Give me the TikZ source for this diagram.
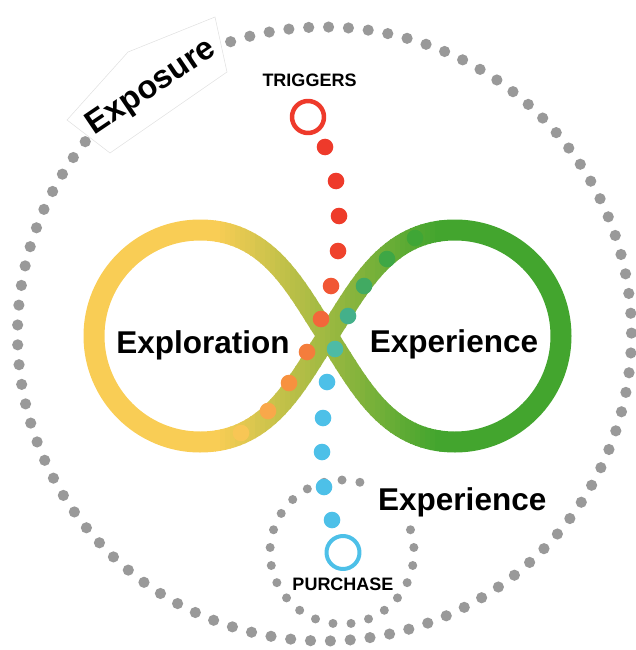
\documentclass[tikz,border=0pt]{standalone}
\usepackage{fontspec}
\setmainfont{Liberation Sans}
\definecolor{expyellow}{HTML}{F9CD55}
\definecolor{expgreen}{HTML}{43A52E}
\definecolor{dotgray}{HTML}{999999}
\definecolor{trigred}{HTML}{EE3A2B}
\definecolor{buyblue}{HTML}{4DC0E8}
\def\infpath{(327.5,336) .. controls (357.5,291) and (385,230) .. (455,230)
 .. controls (513.5,230) and (561,277.5) .. (561,336)
 .. controls (561,394.5) and (513.5,442) .. (455,442)
 .. controls (385,442) and (357.5,381) .. (327.5,336)
 .. controls (297.5,291) and (270,230) .. (200,230)
 .. controls (141.5,230) and (94,277.5) .. (94,336)
 .. controls (94,394.5) and (141.5,442) .. (200,442)
 .. controls (270,442) and (297.5,381) .. (327.5,336) -- cycle}
\begin{document}
\begin{tikzpicture}[x=1pt, y=-1pt, line join=round, line cap=round,
 band/.style={line width=21pt},
 biglbl/.style={font=\fontsize{31.5}{36}\selectfont\bfseries, inner sep=0pt},
 smalllbl/.style={font=\fontsize{18}{21}\selectfont\bfseries, inner sep=0pt}]
\useasboundingbox (0,0) rectangle (636,650);
\foreach \a in {0,...,96}
\fill[dotgray] ({324.5+307*cos(107.8+\a*3.7113)},{334-307*sin(107.8+\a*3.7113)}) circle (5.6);
\foreach \a in {0,...,24}
\fill[dotgray] ({342+72*cos(90+\a*14.4)},{552-72*sin(90+\a*14.4)}) circle (4.5);
\begin{scope}
\clip (60,200) rectangle (216,480);
\draw[band, expyellow] \infpath;
\end{scope}
\begin{scope}
\clip (439,200) rectangle (600,480);
\draw[band, expgreen] \infpath;
\end{scope}
\foreach \i in {0,...,44}{
\pgfmathtruncatemacro\p{100-\i*100/44}
\begin{scope}
\clip (215+5*\i,200) rectangle (221+5*\i,480);
\draw[band, expyellow!\p!expgreen] \infpath;
\end{scope}}
\coordinate (trig) at (308,117);
\coordinate (buy) at (343,552.5);
\draw[trigred, line width=4.5pt] (trig) circle (16);
\draw[buyblue, line width=4pt] (buy) circle (16.5);
\foreach \x/\y/\c in {325/147/EE3A2B,336/181/EE3A2B,339/216/EE3C2A,338/251/EF432D,331/286/F15634,
321/319/F2673A,307/352/F47D3C,289/383/F7913F,268/411/F9A84A,241/433/F8C655,
335/349/4DBBA6,348/316/44B08A,364/286/41AA62,387/259/3EA745,415/238/3FA636,
327/382/4DC0E8,323/418/4DC0E8,322/452/4DC0E8,324/487/4DC0E8,332/520/4DC0E8}
{\definecolor{dc}{HTML}{\c}\fill[dc] (\x,\y) circle (8.3);}
\node[biglbl, anchor=base] (explo) at (203,353) {Exploration};
\node[biglbl, anchor=base] (exper) at (454,352) {Experience};
\node[biglbl, anchor=base west, fill=white, inner xsep=9pt, inner ysep=7pt] (experlow) at (369,510) {Experience};
\node[smalllbl, anchor=base] (triglbl) at (309.5,87) {TRIGGERS};
\node[smalllbl, anchor=base] (buylbl) at (343,590) {PURCHASE};
\filldraw[fill=white, draw=black!12, line width=0.5pt, line join=miter] (67,120) -- (110,153) -- (227,72) -- (215,17) -- (128,52) -- cycle;
\node[font=\fontsize{32.5}{36}\selectfont\bfseries, inner sep=0pt, rotate=34] (expo) at (152,88) {Exposure};
\end{tikzpicture}
\end{document}
